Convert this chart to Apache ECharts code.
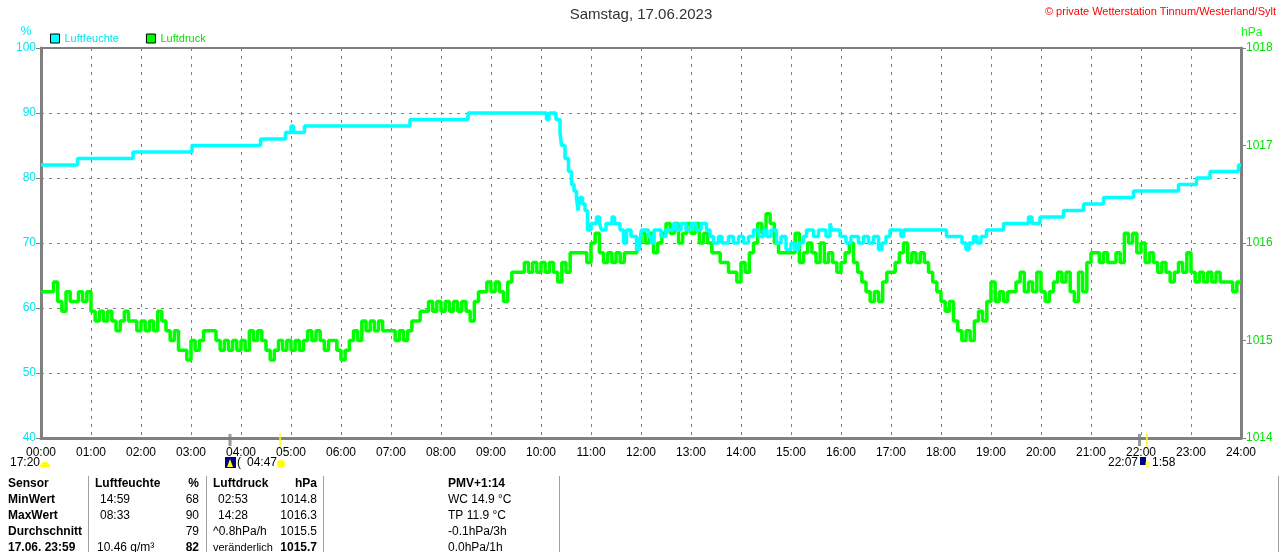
<!DOCTYPE html>
<html><head><meta charset="utf-8">
<script src="https://cdn.jsdelivr.net/npm/echarts@6/dist/echarts.min.js"></script>
<style>html,body{margin:0;padding:0;background:#fff}#c{width:1280px;height:552px}</style>
</head><body><div id="c"></div>
<script>
const hourLabels = ['00:00','01:00','02:00','03:00','04:00','05:00','06:00','07:00','08:00','09:00','10:00','11:00','12:00',
  '13:00','14:00','15:00','16:00','17:00','18:00','19:00','20:00','21:00','22:00','23:00','24:00'];
const humTicks = [40,50,60,70,80,90,100];
const presTicks = [1014,1015,1016,1017,1018];

// Luftfeuchte (%) : [hour, value] step points
const humidity = [
 [0,82],[0.73,83],[1.84,84],[3.02,85],[4.39,86],[4.89,87],[5.0,88],[5.05,87],[5.27,88],[7.38,89],[8.54,90],
 [10.11,89],[10.16,90],[10.3,89],[10.38,87],[10.41,85],[10.48,83],[10.55,81],[10.61,79],[10.66,78],[10.71,77],
 [10.74,75],[10.78,77],[10.83,76],[10.88,75],[10.93,72],[11.0,73],[11.11,74],[11.17,73],[11.21,72],[11.3,73],
 [11.42,74],[11.47,73],[11.58,72],[11.65,70],[11.71,72],[11.8,71],[11.91,69],[11.97,70],[12.01,72],[12.15,71],
 [12.21,70],[12.26,72],[12.4,71],[12.5,72],[12.65,73],[12.72,72],[12.8,73],[12.9,72],[13.0,73],[13.1,72],[13.2,73],
 [13.31,72],[13.38,71],[13.45,70],[13.55,71],[13.62,70],[13.75,71],[13.85,70],[13.95,71],[14.05,70],[14.15,71],
 [14.25,72],[14.35,71],[14.45,72],[14.52,71],[14.6,72],[14.71,70],[14.8,71],[14.9,69],[15.0,70],[15.08,69],
 [15.15,70],[15.25,71],[15.31,72],[15.45,71],[15.55,72],[15.7,71],[15.78,73],[15.82,72],[15.98,71],[16.1,70],
 [16.2,71],[16.35,70],[16.45,71],[16.55,70],[16.65,71],[16.75,69],[16.82,70],[16.9,71],[16.98,72],[17.2,71],
 [17.25,72],[18.11,71],[18.42,70],[18.5,69],[18.56,70],[18.65,71],[18.72,70],[18.8,71],[18.91,72],[19.25,73],
 [19.75,74],[19.82,73],[19.98,74],[20.45,75],[20.85,76],[21.25,77],[21.85,78],[22.75,79],[23.11,80],[23.38,81],
 [23.95,82],[24,82]
];

// Luftdruck (hPa) : one value every 5 minutes, 00:00 .. 24:00
const pressure = [
 1015.5,1015.5,1015.5,1015.6,1015.4,1015.3,1015.5,1015.4,1015.4,1015.5,1015.4,1015.5,
 1015.3,1015.2,1015.3,1015.2,1015.3,1015.2,1015.1,1015.2,1015.3,1015.2,1015.2,1015.1,
 1015.2,1015.1,1015.2,1015.1,1015.3,1015.2,1015.1,1015.0,1015.1,1014.9,1014.9,1014.8,
 1015.0,1014.9,1015.0,1015.1,1015.1,1015.1,1015.0,1014.9,1015.0,1014.9,1015.0,1014.9,
 1015.0,1014.9,1015.1,1015.0,1015.1,1015.0,1014.9,1014.8,1014.9,1015.0,1014.9,1015.0,
 1014.9,1015.0,1014.9,1015.0,1015.1,1015.0,1015.1,1015.0,1014.9,1015.0,1015.0,1014.9,
 1014.8,1014.9,1015.0,1015.1,1015.0,1015.2,1015.1,1015.2,1015.1,1015.2,1015.1,1015.1,
 1015.1,1015.0,1015.1,1015.0,1015.1,1015.2,1015.2,1015.3,1015.3,1015.4,1015.3,1015.4,
 1015.3,1015.4,1015.3,1015.4,1015.3,1015.4,1015.3,1015.2,1015.4,1015.5,1015.5,1015.6,
 1015.5,1015.6,1015.5,1015.4,1015.6,1015.7,1015.7,1015.7,1015.8,1015.7,1015.8,1015.7,
 1015.8,1015.7,1015.8,1015.7,1015.6,1015.8,1015.7,1015.9,1015.9,1015.9,1015.9,1015.8,
 1016.0,1016.1,1015.9,1015.8,1015.9,1015.8,1015.9,1015.8,1015.9,1015.9,1015.9,1016.0,
 1016.1,1016.0,1016.1,1015.9,1016.0,1016.1,1016.2,1016.1,1016.2,1016.0,1016.1,1016.2,
 1016.1,1016.2,1016.0,1016.1,1016.0,1015.9,1015.9,1015.8,1015.8,1015.7,1015.7,1015.6,
 1015.8,1015.7,1015.9,1016.0,1016.2,1016.1,1016.3,1016.2,1016.0,1015.9,1015.9,1015.9,
 1015.9,1016.1,1015.8,1015.9,1016.0,1015.9,1015.8,1016.0,1015.8,1015.9,1015.8,1015.7,
 1015.8,1015.9,1016.0,1015.8,1015.7,1015.6,1015.5,1015.4,1015.5,1015.4,1015.6,1015.7,
 1015.7,1015.8,1015.9,1016.0,1015.8,1015.9,1015.8,1015.9,1015.8,1015.7,1015.6,1015.5,
 1015.4,1015.3,1015.4,1015.2,1015.1,1015.0,1015.1,1015.0,1015.2,1015.3,1015.2,1015.4,
 1015.6,1015.4,1015.5,1015.4,1015.5,1015.5,1015.6,1015.7,1015.5,1015.6,1015.5,1015.7,
 1015.5,1015.4,1015.5,1015.6,1015.7,1015.6,1015.7,1015.5,1015.4,1015.7,1015.5,1015.8,
 1015.9,1015.9,1015.8,1015.9,1015.8,1015.8,1015.9,1015.8,1016.1,1016.0,1016.1,1015.9,
 1016.0,1015.8,1015.9,1015.8,1015.7,1015.8,1015.7,1015.6,1015.7,1015.8,1015.7,1015.9,
 1015.7,1015.6,1015.7,1015.6,1015.7,1015.6,1015.7,1015.6,1015.6,1015.6,1015.5,1015.6,
 1015.6
];

// astronomical markers on the time axis (hours)
const sunMarks = [4.783, 22.117];
const moonMarks = [3.78, 21.97];

const presData = pressure.map((v, i) => [i / 12, v]);
const FONT = 'Liberation Sans, Arial, sans-serif';
const GRAY = '#808080';

const chart = echarts.init(document.getElementById('c'));

function txt(x, y, s, opt) {
  opt = opt || {};
  return { type: 'text', x: x, y: y, silent: true,
    style: { text: s, fontFamily: FONT, fontSize: opt.size || 12, fontWeight: opt.bold ? 'bold' : 'normal',
      fill: opt.color || '#000', textAlign: opt.align || 'left', textVerticalAlign: 'middle' } };
}
const rows = [484, 500, 516, 532, 548];
const graphics = [
  txt(641, 15, 'Samstag, 17.06.2023', { size: 15, align: 'center', color: '#333' }),
  txt(1276, 12, '© private Wetterstation Tinnum/Westerland/Sylt', { size: 11, align: 'right', color: '#ff0000' }),
  txt(26, 32, '%', { size: 12, align: 'center', color: '#00e5ee' }),
  txt(1241, 33, 'hPa', { size: 12, color: '#00ff00' }),
  // sun / moon labels below axis
  txt(10, 463, '17:20'),
  { type: 'sector', silent: true, shape: { cx: 45, cy: 467, r0: 0, r: 5, startAngle: Math.PI, endAngle: 2 * Math.PI }, style: { fill: '#ffff00' } },
  { type: 'rect', silent: true, shape: { x: 225, y: 457, width: 11, height: 11 }, style: { fill: '#000080' } },
  { type: 'polygon', silent: true, shape: { points: [[230, 459], [233, 467], [227, 467]] }, style: { fill: '#ffff00' } },
  txt(237, 463, '('),
  txt(247, 463, '04:47'),
  { type: 'circle', silent: true, shape: { cx: 281, cy: 464, r: 4 }, style: { fill: '#ffff00' } },
  txt(1138, 463, '22:07', { align: 'right' }),
  { type: 'rect', silent: true, shape: { x: 1140, y: 457, width: 6, height: 8 }, style: { fill: '#000080' } },
  { type: 'rect', silent: true, shape: { x: 1146, y: 462, width: 3, height: 5 }, style: { fill: 'none', stroke: '#ffff00', lineWidth: 1 } },
  txt(1152, 463, '1:58'),
  // table
  txt(8, rows[0], 'Sensor', { bold: true }),
  txt(8, rows[1], 'MinWert', { bold: true }),
  txt(8, rows[2], 'MaxWert', { bold: true }),
  txt(8, rows[3], 'Durchschnitt', { bold: true }),
  txt(8, rows[4], '17.06. 23:59', { bold: true }),
  txt(95, rows[0], 'Luftfeuchte', { bold: true }),
  txt(199, rows[0], '%', { bold: true, align: 'right' }),
  txt(100, rows[1], '14:59'), txt(199, rows[1], '68', { align: 'right' }),
  txt(100, rows[2], '08:33'), txt(199, rows[2], '90', { align: 'right' }),
  txt(199, rows[3], '79', { align: 'right' }),
  txt(97, rows[4], '10.46 g/m³'), txt(199, rows[4], '82', { align: 'right', bold: true }),
  txt(213, rows[0], 'Luftdruck', { bold: true }),
  txt(317, rows[0], 'hPa', { bold: true, align: 'right' }),
  txt(218, rows[1], '02:53'), txt(317, rows[1], '1014.8', { align: 'right' }),
  txt(218, rows[2], '14:28'), txt(317, rows[2], '1016.3', { align: 'right' }),
  txt(213, rows[3], '^0.8hPa/h'), txt(317, rows[3], '1015.5', { align: 'right' }),
  txt(213, rows[4], 'veränderlich', { size: 11 }), txt(317, rows[4], '1015.7', { align: 'right', bold: true }),
  txt(448, rows[0], 'PMV+1:14', { bold: true }),
  txt(448, rows[1], 'WC 14.9 °C'),
  txt(448, rows[2], 'TP 11.9 °C'),
  txt(448, rows[3], '-0.1hPa/3h'),
  txt(448, rows[4], '0.0hPa/1h')
];
[88, 206, 323, 559, 1278].forEach(x => graphics.push({ type: 'line', silent: true,
  shape: { x1: x + 0.5, y1: 476, x2: x + 0.5, y2: 552 }, style: { stroke: '#a0a0a0', lineWidth: 1 } }));

chart.setOption({
  animation: false,
  backgroundColor: '#fff',
  textStyle: { fontFamily: FONT },
  grid: { left: 41, right: 39, top: 48, bottom: 114, show: true, borderColor: GRAY, borderWidth: 2, containLabel: false },
  legend: {
    left: 50, top: 33, padding: 0, icon: 'rect', itemWidth: 9, itemHeight: 9, itemGap: 27,
    textStyle: { fontSize: 11, fontFamily: FONT },
    data: [
      { name: 'Luftfeuchte', itemStyle: { color: '#00ffff', borderColor: '#000', borderWidth: 1 }, textStyle: { color: '#00e5ee' } },
      { name: 'Luftdruck', itemStyle: { color: '#00ff00', borderColor: '#000', borderWidth: 1 }, textStyle: { color: '#00e000' } }
    ]
  },
  xAxis: {
    type: 'value', min: 0, max: 24, interval: 1,
    axisLine: { show: true, lineStyle: { color: GRAY, width: 3 } },
    axisTick: { show: false },
    axisLabel: { color: '#000', fontSize: 12, margin: 9, formatter: v => hourLabels[v] },
    splitLine: { show: true, lineStyle: { color: GRAY, type: [3, 5], width: 1 } }
  },
  yAxis: [
    { type: 'value', min: 40, max: 100, interval: 10, position: 'left',
      axisLine: { show: true, lineStyle: { color: GRAY, width: 3 } },
      axisTick: { show: true, length: 5, lineStyle: { color: GRAY, width: 1 } },
      axisLabel: { color: '#00e5ee', fontSize: 12, margin: 5, formatter: v => humTicks.includes(v) ? String(v) : '' },
      splitLine: { show: true, lineStyle: { color: GRAY, type: [3, 5], width: 1 } } },
    { type: 'value', min: 1014, max: 1018, interval: 1, position: 'right',
      axisLine: { show: true, lineStyle: { color: GRAY, width: 3 } },
      axisTick: { show: true, length: 5, lineStyle: { color: GRAY, width: 1 } },
      axisLabel: { color: '#00e000', fontSize: 12, margin: 5, formatter: v => presTicks.includes(v) ? String(v) : '' },
      splitLine: { show: false } }
  ],
  series: [
    { name: 'Luftdruck', type: 'line', yAxisIndex: 1, step: 'end', showSymbol: false, symbol: 'none',
      data: presData, lineStyle: { color: '#00ff00', width: 3.5 }, itemStyle: { color: '#00ff00' }, z: 3 },
    { name: 'Luftfeuchte', type: 'line', yAxisIndex: 0, step: 'end', showSymbol: false, symbol: 'none',
      data: humidity, lineStyle: { color: '#00ffff', width: 3.5 }, itemStyle: { color: '#00ffff' }, z: 4 },
    { name: 'moon', type: 'scatter', yAxisIndex: 0, symbol: 'rect', symbolSize: [3, 12], symbolOffset: [0, 2],
      data: moonMarks.map(h => [h, 40]), itemStyle: { color: GRAY }, z: 5, silent: true },
    { name: 'sun', type: 'scatter', yAxisIndex: 0, symbol: 'rect', symbolSize: [2, 13], symbolOffset: [0, 2],
      data: sunMarks.map(h => [h, 40]), itemStyle: { color: '#ffff00' }, z: 5, silent: true }
  ],
  graphic: graphics
});
</script></body></html>
